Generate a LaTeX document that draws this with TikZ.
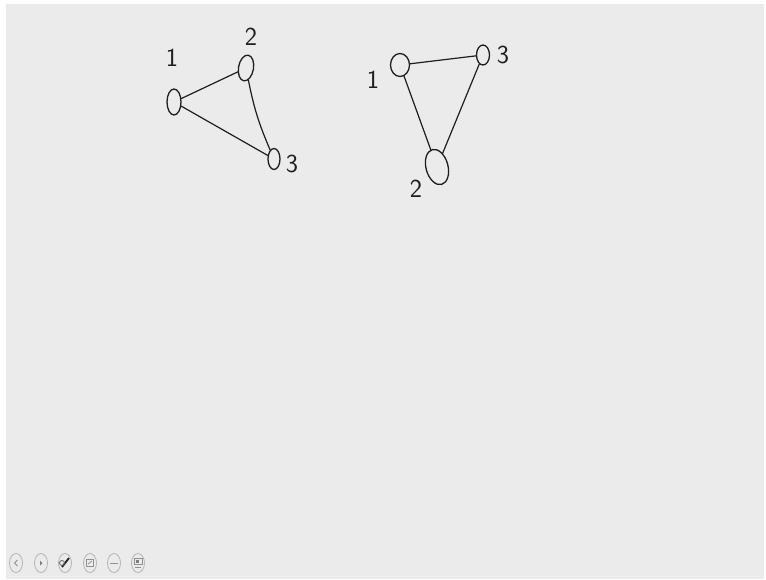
\documentclass[tikz,border=0pt]{standalone}
\usetikzlibrary{shapes.geometric}
\definecolor{bgc}{HTML}{EBEBEB}
\definecolor{ink}{HTML}{1E1E1E}
\definecolor{tb}{HTML}{B4B4B4}
\tikzset{
  vtx/.style={draw=ink, line width=1.3pt, ellipse, inner sep=0pt},
  edge/.style={draw=ink, line width=1.2pt, line cap=round},
  lbl/.style={text=ink, inner sep=0pt, font=\sffamily\fontsize{26}{26}\selectfont},
  tbicon/.style={draw=tb, line width=0.8pt, ellipse, inner sep=0pt, minimum width=13pt, minimum height=19pt},
  tbglyph/.style={draw=tb!80!black, line width=0.8pt}
}
\begin{document}
\begin{tikzpicture}[x=1pt,y=-1pt]
\useasboundingbox (0,0) rectangle (766,579);
\fill[white] (0,0) rectangle (766,579);
\fill[bgc] (6,4) rectangle (764,579);

% left graph
\node[vtx, minimum width=14pt, minimum height=26pt] (l1) at (174,102) {};
\node[vtx, minimum width=15pt, minimum height=26pt, rotate=-10] (l2) at (246,68) {};
\node[vtx, minimum width=12pt, minimum height=21pt] (l3) at (274,159) {};
\node[lbl] (tl1) at (172,58) {1};
\node[lbl] (tl2) at (251,37) {2};
\node[lbl] (tl3) at (292,164) {3};
\draw[edge] (l1) -- (l2);
\draw[edge] (l2) to[bend right=6] (l3);
\draw[edge] (l1) -- (l3);

% right graph
\node[vtx, minimum width=19pt, minimum height=23pt] (r1) at (400,65) {};
\node[vtx, minimum width=13pt, minimum height=20pt] (r3) at (483,55) {};
\node[vtx, minimum width=22pt, minimum height=36pt, rotate=15] (r2) at (437,167) {};
\node[lbl] (tr1) at (373,80) {1};
\node[lbl] (tr3) at (503,55) {3};
\node[lbl] (tr2) at (416,189) {2};
\draw[edge] (r1) -- (r3);
\draw[edge] (r1) -- (r2);
\draw[edge] (r3) -- (r2);

% toolbar
\node[tbicon] (b1) at (16,563) {};
\node[tbicon] (b2) at (41,563) {};
\node[tbicon] (b3) at (65,563) {};
\node[tbicon] (b4) at (90,563) {};
\node[tbicon] (b5) at (114,563) {};
\node[tbicon] (b6) at (138,563) {};
\draw[tbglyph] ([shift={(1.5,-3)}]b1.center) -- ([shift={(-1.5,0)}]b1.center) -- ([shift={(1.5,3)}]b1.center);
\fill[tb!70!black] ([shift={(-1,-2.5)}]b2.center) -- ([shift={(1.5,0)}]b2.center) -- ([shift={(-1,2.5)}]b2.center) -- cycle;
\draw[ink, line width=1.8pt] ([shift={(-3,4)}]b3.center) -- ([shift={(4,-5)}]b3.center);
\draw[ink!70, line width=0.8pt] ([shift={(-3,0)}]b3.center) circle[radius=2.5pt];
\draw[tbglyph] ([shift={(-3.5,-4)}]b4.center) rectangle ([shift={(3.5,3)}]b4.center);
\draw[tbglyph] ([shift={(-2,1)}]b4.center) -- ([shift={(2,-2)}]b4.center);
\draw[tbglyph] ([shift={(-4,0)}]b5.center) -- ([shift={(4,0)}]b5.center);
\draw[tbglyph] ([shift={(-4,-5)}]b6.center) rectangle ([shift={(4,1)}]b6.center);
\fill[tb!70!black] ([shift={(-2,-3)}]b6.center) rectangle ([shift={(1,0)}]b6.center);
\draw[tbglyph] ([shift={(-3,4)}]b6.center) -- ([shift={(3,4)}]b6.center);
\end{tikzpicture}
\end{document}
